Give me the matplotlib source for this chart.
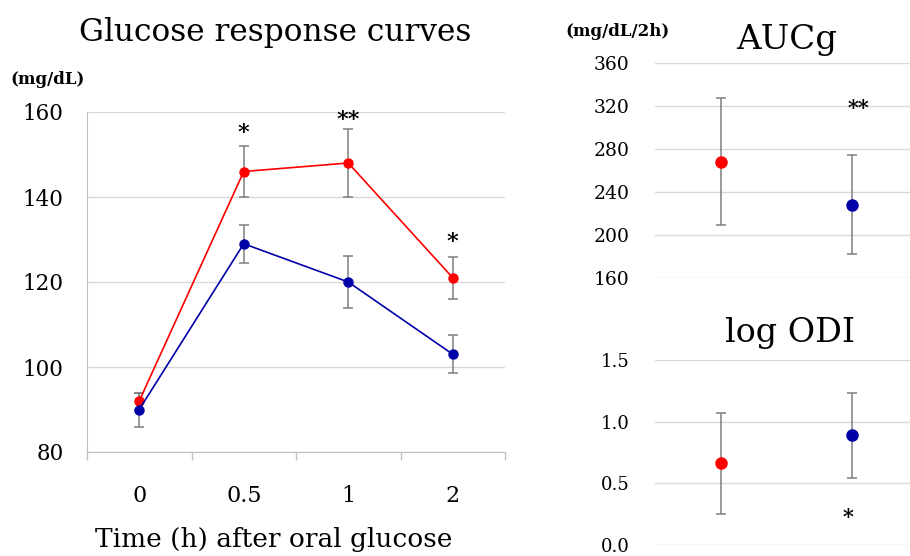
import matplotlib
matplotlib.use("Agg")
import matplotlib.pyplot as plt
from matplotlib.ticker import FixedLocator

# glucose response curves (mg/dL)
time_labels = ["0", "0.5", "1", "2"]
red_glucose = [92, 146, 148, 121]
red_err = [2, 6, 8, 5]
blue_glucose = [90, 129, 120, 103]
blue_err = [4, 4.5, 6.2, 4.5]
curve_marks = ["*", "**", "*"]
curve_mark_pos = [1, 2, 3]
curve_mark_y = [155, 158, 129.5]

# AUCg (mg/dL/2h)
auc_values = [268, 228]
auc_err = [59, 46]
auc_mark = "**"
auc_mark_y = 318

# log ODI
odi_values = [0.66, 0.89]
odi_err = [0.41, 0.345]
odi_mark = "*"
odi_mark_y = 0.22

RED = "#ff0000"
BLUE = "#0000a8"
ERR = "#7f7f7f"
GRID = "#d9d9d9"
FONT = "DejaVu Serif"

plt.rcParams["font.family"] = FONT

W, H = 910, 556
fig = plt.figure(figsize=(W / 100, H / 100), dpi=100)


def px_axes(left, top, right, bottom):
    return fig.add_axes([left / W, 1 - bottom / H, (right - left) / W, (bottom - top) / H])


# ---- left panel
ax = px_axes(87, 112, 505, 452)
x = list(range(len(time_labels)))
ax.errorbar(x, red_glucose, yerr=red_err, color=RED, ecolor=ERR, elinewidth=1.1,
            capsize=3.5, capthick=1.1, marker="o", markersize=6.5, lw=1.2, zorder=3)
ax.errorbar(x, blue_glucose, yerr=blue_err, color=BLUE, ecolor=ERR, elinewidth=1.1,
            capsize=3.5, capthick=1.1, marker="o", markersize=6.5, lw=1.2, zorder=3)
for pos, mark, yy in zip(curve_mark_pos, curve_marks, curve_mark_y):
    ax.text(pos, yy, mark, ha="center", va="center", fontsize=16, fontweight="bold")

ax.set_xlim(-0.5, len(time_labels) - 0.5)
ax.set_ylim(80, 160)
ax.set_yticks([80, 100, 120, 140, 160])
ax.set_xticks(x)
ax.set_xticklabels(time_labels)
ax.xaxis.set_minor_locator(FixedLocator([i - 0.5 for i in range(len(time_labels) + 1)]))
ax.tick_params(axis="x", which="major", length=0, pad=24, labelsize=16)
ax.tick_params(axis="x", which="minor", length=6, color="#bfbfbf", width=1)
ax.tick_params(axis="y", length=0, pad=17, labelsize=15.5)
ax.grid(axis="y", color=GRID, lw=1)
ax.set_axisbelow(True)
for s in ["top", "right"]:
    ax.spines[s].set_visible(False)
ax.spines["left"].set_color("#bfbfbf")
ax.spines["bottom"].set_color("#bfbfbf")

fig.text(275 / W, 1 - 32 / H, "Glucose response curves", ha="center", va="center", fontsize=22.5)
fig.text(10 / W, 1 - 80 / H, "(mg/dL)", ha="left", va="center", fontsize=12, fontweight="bold")
fig.text(274 / W, 1 - 540 / H, "Time (h) after oral glucose", ha="center", va="center", fontsize=19)


def dot_panel(ax, values, errs, ylim, yticks, fmt):
    for i, (v, e, c) in enumerate(zip(values, errs, [RED, BLUE])):
        ax.errorbar([i], [v], yerr=[e], color=c, ecolor=ERR, elinewidth=1.1,
                    capsize=3.5, capthick=1.1, marker="o", markersize=8, lw=0, zorder=3)
    ax.set_xlim(-0.5, 1.44)
    ax.set_ylim(*ylim)
    ax.set_yticks(yticks)
    ax.set_yticklabels([fmt.format(t) for t in yticks])
    ax.set_xticks([])
    ax.tick_params(axis="y", length=0, pad=18.5, labelsize=13.5)
    ax.grid(axis="y", color=GRID, lw=1)
    ax.set_axisbelow(True)
    for s in ax.spines.values():
        s.set_visible(False)


# ---- AUCg
ax2 = px_axes(655, 62.7, 910, 277.7)
dot_panel(ax2, auc_values, auc_err, (160, 360), [160, 200, 240, 280, 320, 360], "{:.0f}")
ax2.text(1.05, auc_mark_y, auc_mark, ha="center", va="center", fontsize=15, fontweight="bold")
fig.text(787 / W, 1 - 40 / H, "AUCg", ha="center", va="center", fontsize=24.5)
fig.text(565 / W, 1 - 31 / H, "(mg/dL/2h)", ha="left", va="center", fontsize=12, fontweight="bold")

# ---- log ODI
ax3 = px_axes(655, 360.3, 910, 544.5)
dot_panel(ax3, odi_values, odi_err, (0, 1.5), [0.0, 0.5, 1.0, 1.5], "{:.1f}")
ax3.tick_params(axis="y", labelsize=13)
ax3.text(0.97, odi_mark_y, odi_mark, ha="center", va="center", fontsize=15, fontweight="bold")
fig.text(790 / W, 1 - 333 / H, "log ODI", ha="center", va="center", fontsize=24)

fig.savefig("out.png", dpi=100)
